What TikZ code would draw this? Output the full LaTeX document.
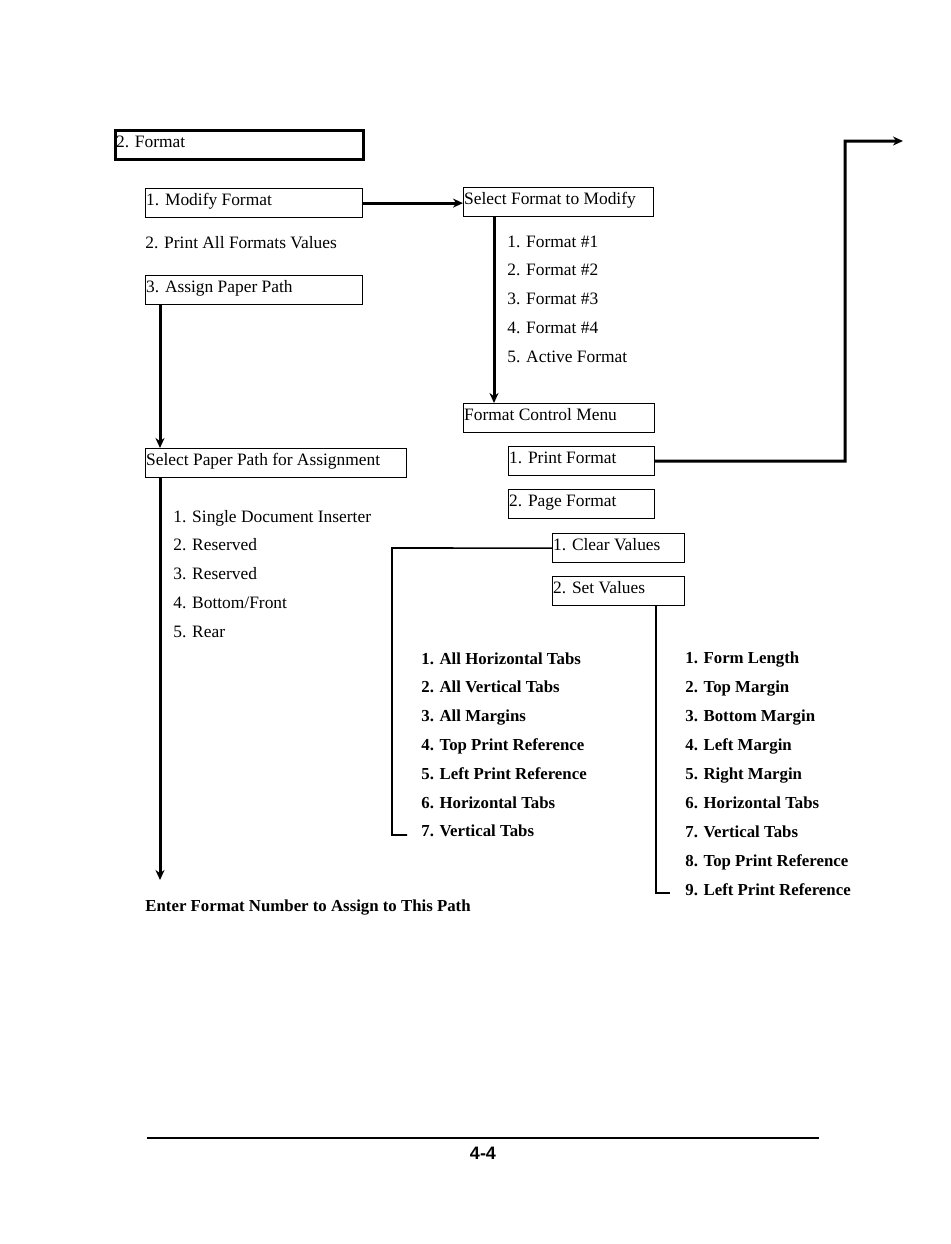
\documentclass[tikz,border=0pt]{standalone}
\usepackage{fontspec}
\setmainfont{Liberation Serif}
\setsansfont{Liberation Sans}
\usetikzlibrary{arrows.meta, positioning}

\begin{document}
\begin{tikzpicture}[x=0.5pt, y=-0.5pt,
    menubox/.style={draw, line width=0.6pt, anchor=north west, inner xsep=0.3pt, inner ysep=0pt,
      text height=8.3pt, text depth=6.2pt, text width=#1, align=left, font=\fontsize{8.7}{10}\selectfont,
      execute at begin node={\spaceskip=0pt\xspaceskip=0pt\relax}},
    listitem/.style={anchor=base west, inner sep=0pt, font=\fontsize{8.7}{10}\selectfont},
    boldlist/.style={anchor=base west, inner sep=0pt, font=\fontsize{8.4}{10}\selectfont\bfseries},
    mainline/.style={line width=1.5pt, -{Stealth[length=5pt, width=4.5pt]}},
    subline/.style={line width=0.8pt}]
  \useasboundingbox (0,0) rectangle (950,1244);

  \node[menubox=123.4pt, line width=1.5pt] (format) at (114,129) {2. Format};
  \node[menubox=107.9pt] (modify) at (145,188) {1. Modify Format};
  \node[listitem] (printall) at (145,248) {2. Print All Formats Values};
  \node[menubox=107.9pt] (assign) at (145,275) {3. Assign Paper Path};

  \node[menubox=94.4pt] (selfmt) at (463,187) {Select Format to Modify};
  \foreach \t [count=\i from 0] in {1. Format \#1, 2. Format \#2, 3. Format \#3, 4. Format \#4, 5. Active Format}
    \node[listitem] (fmtitem\i) at (507,{247+28.75*\i}) {\t};
  \node[menubox=94.9pt] (ctrl) at (463,403) {Format Control Menu};
  \node[menubox=72.4pt] (printfmt) at (508,446) {1. Print Format};
  \node[menubox=72.4pt] (pagefmt) at (508,489) {2. Page Format};
  \node[menubox=65.4pt] (clear) at (552,533) {1. Clear Values};
  \node[menubox=65.4pt] (setval) at (552,576) {2. Set Values};

  \node[menubox=129.9pt] (selpath) at (145,448) {Select Paper Path for Assignment};
  \foreach \t [count=\i from 0] in {1. Single Document Inserter, 2. Reserved, 3. Reserved, 4. Bottom/Front, 5. Rear}
    \node[listitem] (pathitem\i) at (173,{522+28.75*\i}) {\t};

  \foreach \t [count=\i from 0] in {1. All Horizontal Tabs, 2. All Vertical Tabs, 3. All Margins,
      4. Top Print Reference, 5. Left Print Reference, 6. Horizontal Tabs, 7. Vertical Tabs}
    \node[boldlist] (clearitem\i) at (421,{664+28.8*\i}) {\t};
  \foreach \t [count=\i from 0] in {1. Form Length, 2. Top Margin, 3. Bottom Margin, 4. Left Margin,
      5. Right Margin, 6. Horizontal Tabs, 7. Vertical Tabs, 8. Top Print Reference, 9. Left Print Reference}
    \node[boldlist] (setitem\i) at (685,{663+29*\i}) {\t};

  \node[boldlist] (enter) at (145,911) {Enter Format Number to Assign to This Path};

  \coordinate (pathend) at (160,880);
  \coordinate (printout) at (903,141);

  \draw[mainline] (modify.east) -- (modify.east -| selfmt.west);
  \draw[mainline] ([xshift=15.5pt]selfmt.south west) -- ([xshift=15.5pt]ctrl.north west);
  \draw[mainline] ([xshift=7.5pt]assign.south west) -- ([xshift=7.5pt]selpath.north west);
  \draw[mainline] ([xshift=7.5pt]selpath.south west) -- (pathend);
  \draw[mainline] (printfmt.east) -- (845,461) -- (845,141) -- (printout);

  \draw[subline] (clear.west) -- (392,548) -- (392,835) -- (407,835);
  \draw[subline] ([xshift=52pt]setval.south west) -- (656,893) -- (670,893);

  \draw[line width=1.2pt] (147,1138) -- (819,1138);
  \node[font=\fontsize{9}{10}\selectfont\sffamily\bfseries] (pagenum) at (483,1153) {4-4};
\end{tikzpicture}
\end{document}
